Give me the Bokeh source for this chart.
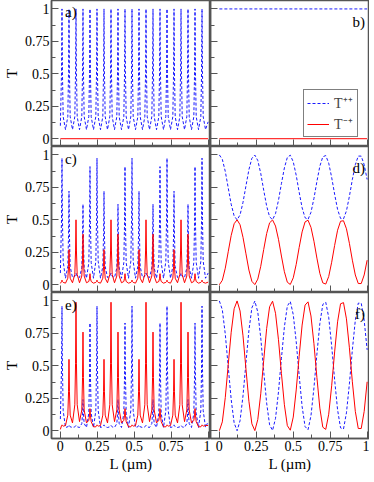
from bokeh.plotting import figure
from bokeh.layouts import gridplot
from bokeh.models import (Range1d, FixedTicker, Label, Legend, LegendItem,
                          CustomLabelingPolicy)
from bokeh.embed import file_html
from bokeh.resources import INLINE

# ---------------- data ----------------
TICKS = [0, 0.25, 0.5, 0.75, 1]
TICK_LABELS = ["0", "0.25", "0.5", "0.75", "1"]
MINOR_TICKS = [0.125, 0.375, 0.625, 0.875]

# sample positions for the resonance panels a), c), e)  (L in micrometres)
L_RES = [
    0.0000, 0.0080, 0.0110, 0.0140, 0.0190, 0.0347,
    0.0504, 0.0554, 0.0584, 0.0614, 0.0664, 0.0821,
    0.0978, 0.1028, 0.1058, 0.1088, 0.1138, 0.1295,
    0.1451, 0.1501, 0.1531, 0.1561, 0.1611, 0.1768,
    0.1925, 0.1975, 0.2005, 0.2035, 0.2085, 0.2242,
    0.2399, 0.2449, 0.2479, 0.2509, 0.2559, 0.2716,
    0.2873, 0.2923, 0.2953, 0.2983, 0.3033, 0.3190,
    0.3347, 0.3397, 0.3427, 0.3457, 0.3507, 0.3664,
    0.3820, 0.3870, 0.3900, 0.3930, 0.3980, 0.4137,
    0.4294, 0.4344, 0.4374, 0.4404, 0.4454, 0.4611,
    0.4768, 0.4818, 0.4848, 0.4878, 0.4928, 0.5085,
    0.5242, 0.5292, 0.5322, 0.5352, 0.5402, 0.5559,
    0.5716, 0.5766, 0.5796, 0.5826, 0.5876, 0.6033,
    0.6189, 0.6239, 0.6269, 0.6299, 0.6349, 0.6506,
    0.6663, 0.6713, 0.6743, 0.6773, 0.6823, 0.6980,
    0.7137, 0.7187, 0.7217, 0.7247, 0.7297, 0.7454,
    0.7611, 0.7661, 0.7691, 0.7721, 0.7771, 0.7928,
    0.8085, 0.8135, 0.8165, 0.8195, 0.8245, 0.8402,
    0.8558, 0.8608, 0.8638, 0.8668, 0.8718, 0.8875,
    0.9032, 0.9082, 0.9112, 0.9142, 0.9192, 0.9349,
    0.9506, 0.9556, 0.9586, 0.9616, 0.9666, 0.9823,
    1.0000,
]

# a) T++
TPP_A = [
    0.10, 0.52, 1.00, 0.52, 0.17, 0.07,
    0.17, 0.52, 1.00, 0.52, 0.17, 0.07,
    0.17, 0.52, 1.00, 0.52, 0.17, 0.07,
    0.17, 0.52, 1.00, 0.52, 0.17, 0.07,
    0.17, 0.52, 1.00, 0.52, 0.17, 0.07,
    0.17, 0.52, 1.00, 0.52, 0.17, 0.07,
    0.17, 0.52, 1.00, 0.52, 0.17, 0.07,
    0.17, 0.52, 1.00, 0.52, 0.17, 0.07,
    0.17, 0.52, 1.00, 0.52, 0.17, 0.07,
    0.17, 0.52, 1.00, 0.52, 0.17, 0.07,
    0.17, 0.52, 1.00, 0.52, 0.17, 0.07,
    0.17, 0.52, 1.00, 0.52, 0.17, 0.07,
    0.17, 0.52, 1.00, 0.52, 0.17, 0.07,
    0.17, 0.52, 1.00, 0.52, 0.17, 0.07,
    0.17, 0.52, 1.00, 0.52, 0.17, 0.07,
    0.17, 0.52, 1.00, 0.52, 0.17, 0.07,
    0.17, 0.52, 1.00, 0.52, 0.17, 0.07,
    0.17, 0.52, 1.00, 0.52, 0.17, 0.07,
    0.17, 0.52, 1.00, 0.52, 0.17, 0.07,
    0.17, 0.52, 1.00, 0.52, 0.17, 0.07,
    0.17, 0.52, 1.00, 0.52, 0.17, 0.07,
    0.13,
]

# c) T++ and T-+
TPP_C = [
    0.09, 0.51, 0.975, 0.51, 0.18, 0.05,
    0.14, 0.385, 0.72, 0.385, 0.14, 0.055,
    0.065, 0.08, 0.09, 0.08, 0.065, 0.055,
    0.13, 0.335, 0.62, 0.335, 0.13, 0.05,
    0.17, 0.48, 0.91, 0.48, 0.17, 0.05,
    0.18, 0.51, 0.975, 0.51, 0.18, 0.05,
    0.14, 0.385, 0.72, 0.385, 0.14, 0.055,
    0.065, 0.08, 0.09, 0.08, 0.065, 0.055,
    0.13, 0.335, 0.62, 0.335, 0.13, 0.05,
    0.17, 0.48, 0.91, 0.48, 0.17, 0.05,
    0.18, 0.51, 0.975, 0.51, 0.18, 0.05,
    0.14, 0.385, 0.72, 0.385, 0.14, 0.055,
    0.065, 0.08, 0.09, 0.08, 0.065, 0.055,
    0.13, 0.335, 0.62, 0.335, 0.13, 0.05,
    0.17, 0.48, 0.91, 0.48, 0.17, 0.05,
    0.18, 0.51, 0.975, 0.51, 0.18, 0.05,
    0.14, 0.385, 0.72, 0.385, 0.14, 0.055,
    0.065, 0.08, 0.09, 0.08, 0.065, 0.055,
    0.13, 0.335, 0.62, 0.335, 0.13, 0.05,
    0.17, 0.48, 0.91, 0.48, 0.17, 0.05,
    0.18, 0.51, 0.975, 0.51, 0.18, 0.05,
    0.09,
]
TMP_C = [
    0.010, 0.025, 0.035, 0.025, 0.018, 0.012,
    0.050, 0.140, 0.270, 0.140, 0.050, 0.015,
    0.080, 0.260, 0.500, 0.260, 0.080, 0.015,
    0.067, 0.200, 0.390, 0.200, 0.067, 0.015,
    0.025, 0.050, 0.085, 0.050, 0.025, 0.012,
    0.018, 0.025, 0.035, 0.025, 0.018, 0.012,
    0.050, 0.140, 0.270, 0.140, 0.050, 0.015,
    0.080, 0.260, 0.500, 0.260, 0.080, 0.015,
    0.067, 0.200, 0.390, 0.200, 0.067, 0.015,
    0.025, 0.050, 0.085, 0.050, 0.025, 0.012,
    0.018, 0.025, 0.035, 0.025, 0.018, 0.012,
    0.050, 0.140, 0.270, 0.140, 0.050, 0.015,
    0.080, 0.260, 0.500, 0.260, 0.080, 0.015,
    0.067, 0.200, 0.390, 0.200, 0.067, 0.015,
    0.025, 0.050, 0.085, 0.050, 0.025, 0.012,
    0.018, 0.025, 0.035, 0.025, 0.018, 0.012,
    0.050, 0.140, 0.270, 0.140, 0.050, 0.015,
    0.080, 0.260, 0.500, 0.260, 0.080, 0.015,
    0.067, 0.200, 0.390, 0.200, 0.067, 0.015,
    0.025, 0.050, 0.085, 0.050, 0.025, 0.012,
    0.018, 0.025, 0.035, 0.025, 0.018, 0.012,
    0.020,
]

# e) T++ and T-+
TPP_E = [
    0.090, 0.490, 0.960, 0.490, 0.155, 0.025,
    0.030, 0.040, 0.045, 0.040, 0.030, 0.025,
    0.030, 0.035, 0.040, 0.035, 0.030, 0.025,
    0.055, 0.130, 0.240, 0.130, 0.055, 0.025,
    0.135, 0.430, 0.830, 0.430, 0.135, 0.025,
    0.155, 0.490, 0.960, 0.490, 0.155, 0.025,
    0.030, 0.040, 0.045, 0.040, 0.030, 0.025,
    0.030, 0.035, 0.040, 0.035, 0.030, 0.025,
    0.055, 0.130, 0.240, 0.130, 0.055, 0.025,
    0.135, 0.430, 0.830, 0.430, 0.135, 0.025,
    0.155, 0.490, 0.960, 0.490, 0.155, 0.025,
    0.030, 0.040, 0.045, 0.040, 0.030, 0.025,
    0.030, 0.035, 0.040, 0.035, 0.030, 0.025,
    0.055, 0.130, 0.240, 0.130, 0.055, 0.025,
    0.135, 0.430, 0.830, 0.430, 0.135, 0.025,
    0.155, 0.490, 0.960, 0.490, 0.155, 0.025,
    0.030, 0.040, 0.045, 0.040, 0.030, 0.025,
    0.030, 0.035, 0.040, 0.035, 0.030, 0.025,
    0.055, 0.130, 0.240, 0.130, 0.055, 0.025,
    0.135, 0.430, 0.830, 0.430, 0.135, 0.025,
    0.155, 0.490, 0.960, 0.490, 0.155, 0.025,
    0.070,
]
TMP_E = [
    0.010, 0.040, 0.045, 0.040, 0.035, 0.040,
    0.120, 0.300, 0.550, 0.300, 0.120, 0.060,
    0.200, 0.520, 0.990, 0.520, 0.200, 0.070,
    0.160, 0.410, 0.760, 0.410, 0.160, 0.060,
    0.080, 0.120, 0.170, 0.120, 0.070, 0.030,
    0.030, 0.040, 0.045, 0.040, 0.035, 0.040,
    0.120, 0.300, 0.550, 0.300, 0.120, 0.060,
    0.200, 0.520, 0.990, 0.520, 0.200, 0.070,
    0.160, 0.410, 0.760, 0.410, 0.160, 0.060,
    0.080, 0.120, 0.170, 0.120, 0.070, 0.030,
    0.030, 0.040, 0.045, 0.040, 0.035, 0.040,
    0.120, 0.300, 0.550, 0.300, 0.120, 0.060,
    0.200, 0.520, 0.990, 0.520, 0.200, 0.070,
    0.160, 0.410, 0.760, 0.410, 0.160, 0.060,
    0.080, 0.120, 0.170, 0.120, 0.070, 0.030,
    0.030, 0.040, 0.045, 0.040, 0.035, 0.040,
    0.120, 0.300, 0.550, 0.300, 0.120, 0.060,
    0.200, 0.520, 0.990, 0.520, 0.200, 0.070,
    0.160, 0.410, 0.760, 0.410, 0.160, 0.060,
    0.080, 0.120, 0.170, 0.120, 0.070, 0.030,
    0.030, 0.040, 0.045, 0.040, 0.035, 0.040,
    0.040,
]

# b) flat curves and the flat T-+ of a)
L_FLAT = [0.0, 1.0]
TMP_A = [0.0, 0.0]
TPP_B = [1.0, 1.0]
TMP_B = [0.0, 0.0]

# smooth panels d) and f), sampled every 0.02 um
L_SMOOTH = [
    0.00, 0.02, 0.04, 0.06, 0.08, 0.10, 0.12, 0.14, 0.16, 0.18,
    0.20, 0.22, 0.24, 0.26, 0.28, 0.30, 0.32, 0.34, 0.36, 0.38,
    0.40, 0.42, 0.44, 0.46, 0.48, 0.50, 0.52, 0.54, 0.56, 0.58,
    0.60, 0.62, 0.64, 0.66, 0.68, 0.70, 0.72, 0.74, 0.76, 0.78,
    0.80, 0.82, 0.84, 0.86, 0.88, 0.90, 0.92, 0.94, 0.96, 0.98,
    1.00,
]
TPP_D = [
    1.000, 0.966, 0.873, 0.746, 0.620, 0.530, 0.500, 0.538, 0.635, 0.762,
    0.887, 0.974, 0.999, 0.957, 0.858, 0.729, 0.606, 0.523, 0.501, 0.548,
    0.650, 0.779, 0.900, 0.981, 0.998, 0.947, 0.843, 0.713, 0.593, 0.516,
    0.503, 0.558, 0.665, 0.795, 0.913, 0.986, 0.995, 0.937, 0.827, 0.697,
    0.580, 0.511, 0.507, 0.569, 0.681, 0.811, 0.925, 0.991, 0.991, 0.925,
    0.811,
]
TMP_D = [
    0.000, 0.034, 0.127, 0.254, 0.380, 0.470, 0.500, 0.462, 0.365, 0.238,
    0.113, 0.026, 0.001, 0.043, 0.142, 0.271, 0.394, 0.477, 0.499, 0.452,
    0.350, 0.221, 0.100, 0.019, 0.002, 0.053, 0.157, 0.287, 0.407, 0.484,
    0.497, 0.442, 0.335, 0.205, 0.087, 0.014, 0.005, 0.063, 0.173, 0.303,
    0.420, 0.489, 0.493, 0.431, 0.319, 0.189, 0.075, 0.009, 0.009, 0.075,
    0.189,
]
TPP_F = [
    1.000, 0.932, 0.745, 0.492, 0.241, 0.060, 0.000, 0.077, 0.269, 0.525,
    0.773, 0.947, 0.999, 0.914, 0.716, 0.459, 0.213, 0.045, 0.002, 0.095,
    0.299, 0.558, 0.800, 0.961, 0.996, 0.895, 0.686, 0.426, 0.186, 0.032,
    0.007, 0.116, 0.330, 0.590, 0.826, 0.973, 0.990, 0.873, 0.654, 0.393,
    0.161, 0.022, 0.013, 0.138, 0.361, 0.623, 0.851, 0.983, 0.983, 0.851,
    0.623,
]
TMP_F = [
    0.000, 0.068, 0.255, 0.508, 0.759, 0.940, 1.000, 0.923, 0.731, 0.475,
    0.227, 0.053, 0.001, 0.086, 0.284, 0.541, 0.787, 0.955, 0.998, 0.905,
    0.701, 0.442, 0.200, 0.039, 0.004, 0.105, 0.314, 0.574, 0.814, 0.968,
    0.993, 0.884, 0.670, 0.410, 0.174, 0.027, 0.010, 0.127, 0.346, 0.607,
    0.839, 0.978, 0.987, 0.862, 0.639, 0.377, 0.149, 0.017, 0.017, 0.149,
    0.377,
]

# ---------------- styling ----------------
FONT = "Liberation Serif"
BLUE = "#0000ff"
RED = "#ff0000"
FRAME = "#555555"
FW, FH = 159, 146
X_RANGE = (-0.06, 1.016)
Y_RANGE = (-0.06, 1.065)

NO_LABELS = CustomLabelingPolicy(code="return new Set()")


def style_axis(ax, show_labels, label):
    ax.ticker = FixedTicker(ticks=TICKS, minor_ticks=MINOR_TICKS)
    ax.major_label_overrides = dict(zip(TICKS, TICK_LABELS))
    ax.major_tick_in = 7
    ax.major_tick_out = 0
    ax.minor_tick_in = 4
    ax.minor_tick_out = 0
    ax.major_tick_line_color = FRAME
    ax.minor_tick_line_color = FRAME
    ax.axis_line_color = FRAME
    ax.axis_line_width = 1.5
    ax.major_label_text_font = FONT
    if show_labels:
        ax.major_label_text_font_size = "14px"
        ax.major_label_text_color = "black"
        ax.major_label_standoff = 2
        ax.axis_label = label
        ax.axis_label_text_font = FONT
        ax.axis_label_text_font_size = "15px"
        ax.axis_label_text_font_style = "normal"
        ax.axis_label_text_color = "black"
        ax.axis_label_standoff = 2
    else:
        ax.major_label_text_font_size = "0px"
        ax.major_label_standoff = 0
        ax.major_label_policy = NO_LABELS
        ax.axis_label = None


def panel(left, bottom):
    p = figure(frame_width=FW, frame_height=FH,
               x_range=Range1d(*X_RANGE), y_range=Range1d(*Y_RANGE),
               output_backend="svg", toolbar_location=None, tools="",
               min_border=0, background_fill_color="white",
               border_fill_color="white")
    p.grid.visible = False
    p.outline_line_color = FRAME
    p.outline_line_width = 1.5
    style_axis(p.xaxis[0], bottom, "L (\u00b5m)")
    style_axis(p.yaxis[0], left, "T")
    return p


def tag(p, text, x, y, align):
    p.add_layout(Label(x=x, y=y, text=text, text_font=FONT,
                       text_font_size="15px", text_color="black",
                       text_align=align, text_baseline="top"))


DASH = "3 2"
LW = 0.9

pa = panel(True, False)
pa.line(L_RES, TPP_A, line_color=BLUE, line_width=LW, line_dash=DASH)
pa.line(L_FLAT, TMP_A, line_color=RED, line_width=1)
tag(pa, "a)", 0.032, 1.035, "left")

pb = panel(False, False)
rb1 = pb.line(L_FLAT, TPP_B, line_color=BLUE, line_width=LW, line_dash=DASH)
rb2 = pb.line(L_FLAT, TMP_B, line_color=RED, line_width=1)
tag(pb, "b)", 0.985, 0.96, "right")
legend = Legend(items=[LegendItem(label="T\u207a\u207a", renderers=[rb1]),
                       LegendItem(label="T\u207b\u207a", renderers=[rb2])],
                location=(FW - 66, 9))
legend.border_line_color = "black"
legend.border_line_width = 1
legend.background_fill_color = "white"
legend.background_fill_alpha = 1
legend.label_text_font = FONT
legend.label_text_font_size = "14px"
legend.glyph_width = 22
legend.glyph_height = 16
legend.label_standoff = 5
legend.padding = 3
legend.spacing = 2
legend.margin = 0
pb.add_layout(legend)

pc = panel(True, False)
pc.line(L_RES, TPP_C, line_color=BLUE, line_width=LW, line_dash=DASH)
pc.line(L_RES, TMP_C, line_color=RED, line_width=1)
tag(pc, "c)", 0.032, 1.03, "left")

pd = panel(False, False)
pd.line(L_SMOOTH, TPP_D, line_color=BLUE, line_width=LW, line_dash=DASH)
pd.line(L_SMOOTH, TMP_D, line_color=RED, line_width=1)
tag(pd, "d)", 0.985, 0.96, "right")

pe = panel(True, True)
pe.line(L_RES, TPP_E, line_color=BLUE, line_width=LW, line_dash=DASH)
pe.line(L_RES, TMP_E, line_color=RED, line_width=1)
tag(pe, "e)", 0.032, 1.03, "left")

pf = panel(False, True)
pf.line(L_SMOOTH, TPP_F, line_color=BLUE, line_width=LW, line_dash=DASH)
pf.line(L_SMOOTH, TMP_F, line_color=RED, line_width=1)
tag(pf, "f)", 0.985, 0.96, "right")

grid = gridplot([[pa, pb], [pc, pd], [pe, pf]], toolbar_location=None)

open("out.html", "w").write(file_html(grid, INLINE))
